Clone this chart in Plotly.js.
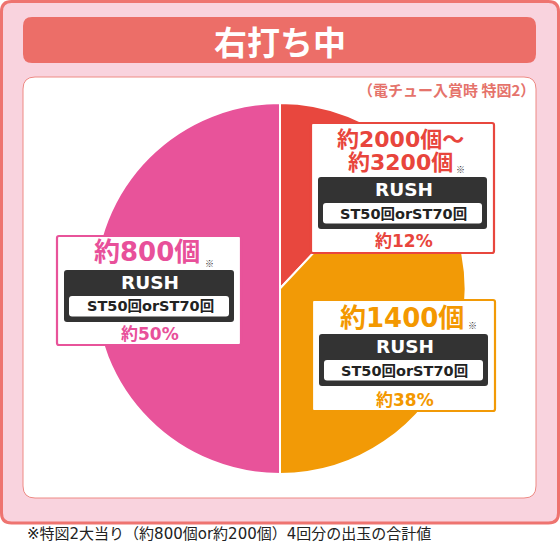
<!DOCTYPE html>
<html>
<head>
<meta charset="utf-8">
<script src="https://cdn.plot.ly/plotly-3.0.1.min.js"></script>
<style>html,body{margin:0;padding:0;background:#fff;}#chart{width:560px;height:543px;}</style>
</head>
<body>
<div id="chart"></div>
<script>
// ---- data ----
const categories = ['約2000個～約3200個', '約1400個', '約800個'];
const shares = [12, 38, 50];
const payoutLines = [['約2000個～', '約3200個'], ['約1400個'], ['約800個']];
const percentLabels = ['約12%', '約38%', '約50%'];
const rushLabel = 'RUSH';
const stLabel = 'ST50回orST70回';
const titleText = '右打ち中';
const subtitleText = '（電チュー入賞時 特図2）';
const footnoteText = '※特図2大当り（約800個or約200個）4回分の出玉の合計値';

// ---- style ----
const sliceColors = ['#e8473e', '#f29a06', '#e8539a'];
const textColors = ['#e8453c', '#f39800', '#e8509a'];
const FONT = '"Noto Sans CJK JP", "Noto Sans", sans-serif';
const MIX = '"DejaVu Sans", "Noto Sans CJK JP", sans-serif';
const W = 560, H = 543;
const X = p => p / W, Y = p => 1 - p / H;

function rr(x0, y0, x1, y1, r) {
  const rx = r / W, ry = r / H;
  const a = X(x0), b = X(x1), t = Y(y0), bo = Y(y1);
  return `M ${a + rx},${t} L ${b - rx},${t} Q ${b},${t} ${b},${t - ry} L ${b},${bo + ry} Q ${b},${bo} ${b - rx},${bo} ` +
         `L ${a + rx},${bo} Q ${a},${bo} ${a},${bo + ry} L ${a},${t - ry} Q ${a},${t} ${a + rx},${t} Z`;
}
function shape(x0, y0, x1, y1, r, fill, line, lw, layer) {
  return {type: 'path', xref: 'paper', yref: 'paper', path: rr(x0, y0, x1, y1, r),
          fillcolor: fill, line: {color: line, width: lw}, layer: layer};
}
function ann(text, px, py, size, color, opts, family) {
  return Object.assign({xref: 'paper', yref: 'paper', x: X(px), y: Y(py), text: text, showarrow: false,
    xanchor: 'center', yanchor: 'middle', font: {family: family || FONT, size: size, color: color}}, opts || {});
}

// pie geometry (pixels)
const cx = 280, cy = 288.5, R = 185.5;

const shapes = [
  shape(1.5, 1.5, 558.5, 523, 10, '#f9d3de', '#ee7470', 3, 'below'),
  shape(23, 17, 536, 63, 9, '#ec6e68', '#ec6e68', 0, 'below'),
  shape(23, 77, 536, 498, 12, '#ffffff', '#ee8a84', 1, 'below')
];
const annotations = [
  ann('<b>' + titleText + '</b>', 280, 41, 33, '#ffffff'),
  ann('<b>' + subtitleText + '</b>', 537, 89, 15, '#e5736b', {xanchor: 'right'}),
  ann(footnoteText, 25, 534, 15, '#222222', {xanchor: 'left'}, MIX)
];

// label boxes: [boxLeft, boxTop, boxRight, boxBottom]
const boxes = [
  {b: [311, 123, 494, 253], lines: [139, 162], star: [460, 169], dark: 177},
  {b: [312, 300, 495, 411], lines: [318], star: [472, 325], dark: 334},
  {b: [57, 236, 241, 345], lines: [252], star: [209, 263], dark: 270}
];
boxes.forEach((bx, i) => {
  const [l, t, r, bt] = bx.b;
  const mid = (l + r) / 2 + 1;
  shapes.push(shape(l, t, r, bt, 2, '#ffffff', sliceColors[i], 2.2, 'above'));
  shapes.push(shape(l + 7, bx.dark, r - 7, bx.dark + 52, 3, '#333333', '#333333', 0, 'above'));
  shapes.push(shape(l + 12, bx.dark + 26, r - 12, bx.dark + 46.5, 3, '#ffffff', '#ffffff', 0, 'above'));
  const sz = payoutLines[i].length > 1 ? 22 : 26;
  payoutLines[i].forEach((txt, k) => {
    annotations.push(ann('<b>' + txt + '</b>', mid - 3, bx.lines[k], sz, textColors[i], null, MIX));
  });
  annotations.push(ann('※', bx.star[0], bx.star[1], 9, '#333333'));
  annotations.push(ann('<b>' + rushLabel + '</b>', mid, bx.dark + 12.5, 18.5, '#ffffff', null, MIX));
  annotations.push(ann('<b>' + stLabel + '</b>', mid, bx.dark + 36.5, 14.5, '#222222', null, MIX));
  annotations.push(ann('<b>' + percentLabels[i] + '</b>', mid, bt - 11.5, 17, textColors[i], null, MIX));
});

const trace = {
  type: 'pie', values: shares, labels: categories, sort: false, direction: 'clockwise', rotation: 0,
  textinfo: 'none', hoverinfo: 'none', showlegend: false,
  marker: {colors: sliceColors, line: {color: '#ffffff', width: 2}},
  domain: {x: [X(cx - R), X(cx + R)], y: [Y(cy + R), Y(cy - R)]}
};

Plotly.newPlot('chart', [trace], {
  width: W, height: H, margin: {l: 0, r: 0, t: 0, b: 0, pad: 0},
  paper_bgcolor: '#ffffff', showlegend: false, shapes: shapes, annotations: annotations,
  font: {family: FONT}
}, {staticPlot: true, displayModeBar: false});
</script>
</body>
</html>
